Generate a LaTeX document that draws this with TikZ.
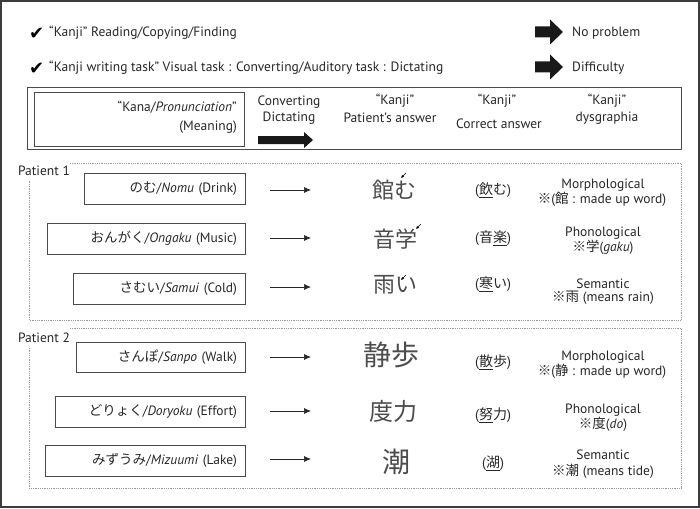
\documentclass[tikz,border=0pt]{standalone}
\usepackage{fontspec}
\setmainfont{PT Sans}
\newfontfamily\jp{Noto Sans CJK JP}
\newfontfamily\sym{DejaVu Sans}
\usetikzlibrary{arrows.meta}
\newcommand\myfs[1]{\fontsize{#1}{#1}\selectfont}
\definecolor{framegray}{HTML}{3C3C3C}
\definecolor{linegray}{HTML}{4A4A4A}
\definecolor{dotgray}{HTML}{9A9A9A}
\begin{document}
\begin{tikzpicture}[x=1pt,y=-1pt,
  txt/.style={font=\myfs{13.5}, inner sep=0pt, text=black!85},
  hdrbox/.style={draw=linegray, line width=1pt, inner sep=0pt},
  rowbox/.style={draw=linegray, line width=1pt, inner xsep=8pt, inner ysep=0pt, align=right, font=\myfs{13.5}, text=black!85},
  patbox/.style={draw=dotgray, densely dotted, line width=0.8pt},
  rowarrow/.style={-{Latex[length=7pt,width=6pt]}, line width=0.7pt, black!85},
  hw/.style={font=\jp\myfs{22}, inner sep=0pt, text=black!70},
  hwb/.style={font=\jp\myfs{28}, inner sep=0pt, text=black!70},
  corr/.style={font=\myfs{14}, inner sep=0pt, text=black!85},
  dys/.style={font=\myfs{13.5}, inner sep=0pt, align=center, text=black!85},
  tiny/.style={-{Latex[length=3pt,width=3pt]}, line width=0.5pt},
  legendarrow/.pic={\fill[black!90] (0,-5.5) -- (15,-5.5) -- (15,-12.5) -- (28,0) -- (15,12.5) -- (15,5.5) -- (0,5.5) -- cycle;},
  hdrarrow/.pic={\fill[black!90] (0,-4) -- (46,-4) -- (46,-8) -- (55,0) -- (46,8) -- (46,4) -- (0,4) -- cycle;}
]
\useasboundingbox (0,0) rectangle (700,508);
\draw[framegray, line width=2pt] (1,1) rectangle (699,507);

% legend
\node[inner sep=0pt, anchor=west, font=\sym\myfs{18}] (chk1) at (29,34) {✔};
\node[txt, anchor=west] (leg1) at (49,33) {“Kanji” Reading/Copying/Finding};
\node[inner sep=0pt, anchor=west, font=\sym\myfs{18}] (chk2) at (29,69) {✔};
\node[txt, anchor=west] (leg2) at (49,68) {“Kanji writing task” Visual task : Converting/Auditory task : Dictating};
\pic at (535,32) {legendarrow};
\node[txt, anchor=west] (noprob) at (572,33) {No problem};
\pic at (535,67) {legendarrow};
\node[txt, anchor=west] (diff) at (572,68) {Difficulty};

% header
\node[hdrbox, minimum width=654, minimum height=61] (hdr) at (354,118.5) {};
\node[hdrbox, minimum width=210, minimum height=53] (kana) at (139,119.5) {};
\node[txt, anchor=east] (kana1) at (237,107) {“Kana/\textit{Pronunciation}”};
\node[txt, anchor=east] (kana2) at (237,127) {(Meaning)};
\node[txt] (conv) at (289,102) {Converting};
\node[txt] (dict) at (289,118) {Dictating};
\pic at (258,140) {hdrarrow};
\node[txt] (k1) at (395,101) {“Kanji”};
\node[txt] (pa) at (390,118) {Patient’s answer};
\node[txt] (k2) at (497,101) {“Kanji”};
\node[txt] (ca) at (499,124) {Correct answer};
\node[txt] (k3) at (607,101) {“Kanji”};
\node[txt] (dg) at (607,118) {dysgraphia};

% patient 1
\node[txt] (pat1) at (44,171) {Patient 1};
\draw[patbox] (70,163) -- (681,163) -- (681,320) -- (29,320) -- (29,181);
\node[rowbox, minimum width=161, minimum height=31, text width=145] (p1a) at (164.5,188.5) {{\jp のむ}/\textit{Nomu} (Drink)};
\node[rowbox, minimum width=198, minimum height=31, text width=182] (p1b) at (146,238.5) {{\jp おんがく}/\textit{Ongaku} (Music)};
\node[rowbox, minimum width=172, minimum height=31, text width=156] (p1c) at (159,288.5) {{\jp さむい}/\textit{Samui} (Cold)};
\coordinate (a1s) at (270,190); \coordinate (a1e) at (311,190);
\coordinate (a2s) at (270,238); \coordinate (a2e) at (311,238);
\coordinate (a3s) at (270,287); \coordinate (a3e) at (311,287);
\draw[rowarrow] (a1s) -- (a1e);
\draw[rowarrow] (a2s) -- (a2e);
\draw[rowarrow] (a3s) -- (a3e);
\node[hw] (h1) at (394,190) {館む};
\node[hw] (h2) at (395,239) {音学};
\node[hw] (h3) at (395,285) {雨い};
\coordinate (t1s) at (406,173); \coordinate (t1e) at (401,178);
\coordinate (t2s) at (421,224); \coordinate (t2e) at (416,229);
\coordinate (t3s) at (406,275); \coordinate (t3e) at (401,280);
\draw[tiny] (t1s) -- (t1e);
\draw[tiny] (t2s) -- (t2e);
\draw[tiny] (t3s) -- (t3e);
\node[corr] (c1) at (493,190) {({\jp\underline{飲}む})};
\node[corr] (c2) at (493,238) {({\jp 音\underline{楽}})};
\node[corr] (c3) at (493,284) {({\jp\underline{寒}い})};
\node[dys] (d1a) at (603,185) {Morphological};
\node[dys] (d1b) at (602,199) {{\jp ※}({\jp 館} : made up word)};
\node[dys] (d2a) at (603,233) {Phonological};
\node[dys] (d2b) at (603,247) {{\jp ※学}(\textit{gaku})};
\node[dys] (d3a) at (603,284) {Semantic};
\node[dys] (d3b) at (603,298) {{\jp ※雨} (means rain)};

% patient 2
\node[txt] (pat2) at (44,338) {Patient 2};
\draw[patbox] (70,328) -- (681,328) -- (681,488) -- (29,488) -- (29,347);
\node[rowbox, minimum width=169, minimum height=30, text width=153] (p2a) at (160.5,357) {{\jp さんぽ}/\textit{Sanpo} (Walk)};
\node[rowbox, minimum width=190, minimum height=31, text width=174] (p2b) at (150,411.5) {{\jp どりょく}/\textit{Doryoku} (Effort)};
\node[rowbox, minimum width=200, minimum height=31, text width=184] (p2c) at (145,460.5) {{\jp みずうみ}/\textit{Mizuumi} (Lake)};
\coordinate (b1s) at (270,357); \coordinate (b1e) at (311,357);
\coordinate (b2s) at (270,411); \coordinate (b2e) at (311,411);
\coordinate (b3s) at (270,459); \coordinate (b3e) at (311,459);
\draw[rowarrow] (b1s) -- (b1e);
\draw[rowarrow] (b2s) -- (b2e);
\draw[rowarrow] (b3s) -- (b3e);
\node[hwb] (h4) at (391,355) {静歩};
\node[hw, font=\jp\myfs{24}] (h5) at (393,411) {度力};
\node[hwb] (h6) at (396,462) {潮};
\node[corr] (c4) at (493,362) {({\jp\underline{散}歩})};
\node[corr] (c5) at (493,415) {({\jp\underline{努}力})};
\node[corr] (c6) at (493,463) {({\jp\underline{湖}})};
\node[dys] (d4a) at (603,357) {Morphological};
\node[dys] (d4b) at (602,371) {{\jp ※}({\jp 静} : made up word)};
\node[dys] (d5a) at (603,410) {Phonological};
\node[dys] (d5b) at (603,424) {{\jp ※度}(\textit{do})};
\node[dys] (d6a) at (603,455) {Semantic};
\node[dys] (d6b) at (603,471) {{\jp ※潮} (means tide)};
\end{tikzpicture}
\end{document}
